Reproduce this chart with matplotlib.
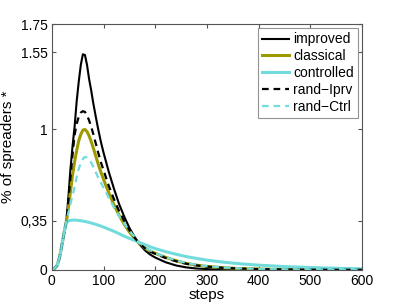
import matplotlib.pyplot as plt

plt.rcParams['font.family'] = ['Liberation Sans', 'DejaVu Sans']

# Data
steps = [0, 5, 10, 15, 20, 25, 28, 32, 36, 40, 44, 48, 52, 56, 60, 64, 68, 72, 76, 80,
         85, 90, 95, 100, 110, 120, 130, 140, 150, 160, 170, 180, 190, 200, 220, 240,
         260, 280, 300, 330, 360, 400, 450, 500, 550, 600]

rise = [0, 0.01, 0.03, 0.09, 0.19, 0.29]

improved = rise + [0.34, 0.52, 0.72, 0.88, 1.02, 1.2, 1.34, 1.46, 1.535, 1.53, 1.46, 1.36,
                   1.28, 1.19, 1.09, 0.995, 0.91, 0.835, 0.70, 0.58, 0.47, 0.38, 0.30,
                   0.235, 0.18, 0.14, 0.11, 0.088, 0.055, 0.032, 0.018, 0.01, 0.006,
                   0.003, 0.002, 0.001, 0.0, 0.0, 0.0, 0.0]
classical = rise + [0.345, 0.44, 0.56, 0.676, 0.77, 0.85, 0.92, 0.965, 0.995, 1.0, 0.985,
                    0.955, 0.915, 0.87, 0.81, 0.75, 0.695, 0.645, 0.55, 0.465, 0.39,
                    0.325, 0.27, 0.225, 0.185, 0.155, 0.135, 0.118, 0.09, 0.066, 0.046,
                    0.034, 0.025, 0.016, 0.01, 0.006, 0.003, 0.002, 0.001, 0.001]
controlled = rise + [0.335, 0.35, 0.353, 0.355, 0.355, 0.354, 0.352, 0.35, 0.348, 0.345,
                     0.342, 0.338, 0.334, 0.33, 0.324, 0.318, 0.312, 0.305, 0.29, 0.275,
                     0.258, 0.24, 0.225, 0.21, 0.195, 0.18, 0.165, 0.152, 0.13, 0.112,
                     0.095, 0.082, 0.07, 0.056, 0.045, 0.034, 0.024, 0.017, 0.012, 0.008]
rand_iprv = rise + [0.345, 0.5, 0.66, 0.82, 0.96, 1.04, 1.09, 1.12, 1.13, 1.125, 1.1,
                    1.065, 1.02, 0.97, 0.90, 0.83, 0.765, 0.71, 0.60, 0.505, 0.42, 0.35,
                    0.285, 0.23, 0.185, 0.155, 0.13, 0.115, 0.085, 0.062, 0.044, 0.032,
                    0.024, 0.015, 0.01, 0.006, 0.003, 0.002, 0.001, 0.001]
rand_ctrl = rise + [0.345, 0.41, 0.47, 0.53, 0.59, 0.66, 0.72, 0.76, 0.79, 0.805, 0.8,
                    0.785, 0.765, 0.735, 0.695, 0.655, 0.62, 0.585, 0.515, 0.445, 0.385,
                    0.33, 0.28, 0.235, 0.195, 0.16, 0.14, 0.12, 0.092, 0.068, 0.05,
                    0.036, 0.027, 0.018, 0.012, 0.007, 0.004, 0.002, 0.001, 0.001]

yticks = [0, 0.35, 1, 1.55, 1.75]
ytick_labels = ['0', '0,35', '1', '1.55', '1.75']
xticks = [0, 100, 200, 300, 400, 500, 600]

olive = '#9c9a00'
cyan = '#72dcdc'

fig = plt.figure(figsize=(3.99, 3.05), dpi=100)
ax = fig.add_axes([0.130, 0.115, 0.777, 0.806])

ax.plot(steps, improved, color='black', lw=1.5, label='improved')
ax.plot(steps, classical, color=olive, lw=2.2, label='classical')
ax.plot(steps, controlled, color=cyan, lw=2.2, label='controlled')
ax.plot(steps, rand_iprv, color='black', lw=1.6, ls=(0, (3, 2.2)), label='rand\u2212Iprv')
ax.plot(steps, rand_ctrl, color=cyan, lw=1.6, ls=(0, (3, 2.2)), label='rand\u2212Ctrl')

ax.set_xlim(0, 600)
ax.set_ylim(0, 1.75)
ax.set_xticks(xticks)
ax.set_yticks(yticks)
ax.set_yticklabels(ytick_labels)
ax.tick_params(direction='in', length=3, top=True, right=True, labelsize=10,
               color='#555555', pad=3)
for s in ax.spines.values():
    s.set_color('#555555')
    s.set_linewidth(0.8)

ax.set_xlabel('steps', fontsize=11, labelpad=0)
ax.set_ylabel('% of spreaders *', fontsize=11, labelpad=4)

leg = ax.legend(loc='upper right', fontsize=10, frameon=True, fancybox=False,
                handlelength=1.9, handletextpad=0.3, labelspacing=0.2,
                borderpad=0.3, borderaxespad=0.3)
leg.get_frame().set_edgecolor('#777777')
leg.get_frame().set_linewidth(0.8)

fig.savefig('out.png', dpi=100)
